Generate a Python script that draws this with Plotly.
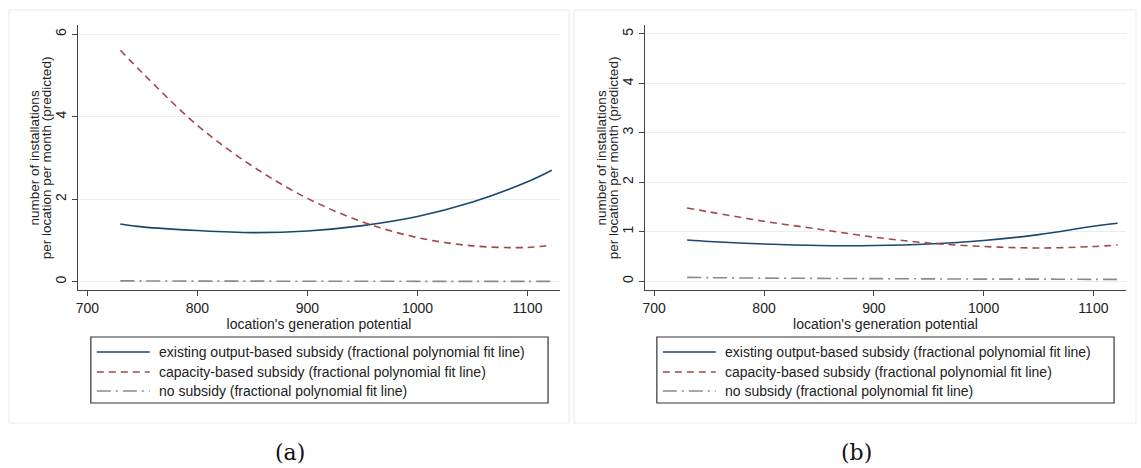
import plotly.graph_objects as go

W, H = 1141, 468

x_vals = [730, 750, 800, 850, 900, 950, 1000, 1050, 1100, 1122]

a_output = [1.40, 1.33, 1.24, 1.19, 1.23, 1.36, 1.58, 1.93, 2.42, 2.70]
a_capacity = [5.61, 5.06, 3.79, 2.80, 2.02, 1.45, 1.07, 0.87, 0.83, 0.89]
a_none = [0.02, 0.02, 0.015, 0.015, 0.012, 0.012, 0.01, 0.01, 0.01, 0.01]

b_output = [0.83, 0.80, 0.75, 0.72, 0.72, 0.75, 0.82, 0.94, 1.11, 1.17]
b_capacity = [1.48, 1.40, 1.21, 1.05, 0.89, 0.77, 0.70, 0.67, 0.70, 0.73]
b_none = [0.075, 0.07, 0.06, 0.055, 0.05, 0.045, 0.04, 0.04, 0.035, 0.035]

x_ticks = [700, 800, 900, 1000, 1100]
a_yticks = [0, 2, 4, 6]
b_yticks = [0, 1, 2, 3, 4, 5]

names = ["existing output-based subsidy (fractional polynomial fit line)",
         "capacity-based subsidy (fractional polynomial fit line)",
         "no subsidy (fractional polynomial fit line)"]
colors = ["#1a476f", "#a4474d", "#8a8a8a"]
dashes = ["solid", "7px,5px", "14px,5px,2px,5px"]

y_title_lines = ["number of installations", "per location per month (predicted)"]
x_title = "location's generation potential"

FONT = "Liberation Sans, Arial, sans-serif"

def px(v):
    return v / W

def py(v):
    return 1 - v / H

fig = go.Figure()

for i, ys in enumerate([a_output, a_capacity, a_none]):
    fig.add_trace(go.Scatter(x=x_vals, y=ys, mode="lines", name=names[i], showlegend=False,
                             line=dict(color=colors[i], width=1.6, dash=dashes[i], shape="spline"),
                             xaxis="x", yaxis="y"))
for i, ys in enumerate([b_output, b_capacity, b_none]):
    fig.add_trace(go.Scatter(x=x_vals, y=ys, mode="lines", name=names[i], showlegend=False,
                             line=dict(color=colors[i], width=1.6, dash=dashes[i], shape="spline"),
                             xaxis="x2", yaxis="y2"))

axis_common = dict(showline=True, linecolor="#444", linewidth=1.2, ticks="outside",
                   ticklen=5, tickcolor="#444", tickfont=dict(family=FONT, size=14, color="#222"),
                   zeroline=False)

fig.update_layout(
    width=W, height=H, margin=dict(l=0, r=0, t=0, b=0),
    paper_bgcolor="white", plot_bgcolor="white",
    font=dict(family=FONT, size=14, color="#222"),
    showlegend=False,
    xaxis=dict(domain=[px(76), px(559)], range=[691.4, 1129.5], tickvals=x_ticks,
               showgrid=False, anchor="y",
               title=dict(text=x_title, standoff=2, font=dict(size=14)), **axis_common),
    yaxis=dict(domain=[py(290), py(25)], range=[-0.2, 6.22], tickvals=a_yticks,
               showgrid=True, gridcolor="#e6eef0", gridwidth=1, tickangle=-90, anchor="x",
               ticklabelstandoff=0, **axis_common),
    xaxis2=dict(domain=[px(644), px(1126)], range=[691.5, 1129.7], tickvals=x_ticks,
                showgrid=False, anchor="y2",
                title=dict(text=x_title, standoff=2, font=dict(size=14)), **axis_common),
    yaxis2=dict(domain=[py(290), py(25)], range=[-0.18, 5.18], tickvals=b_yticks,
                showgrid=True, gridcolor="#e6eef0", gridwidth=1, tickangle=-90, anchor="x2",
                ticklabelstandoff=0, **axis_common),
)

shapes = []
annotations = []
# outer graph-region borders
for (x0, x1) in [(7, 568), (573, 1136)]:
    shapes.append(dict(type="rect", xref="paper", yref="paper",
                       x0=px(x0), x1=px(x1), y0=py(423), y1=py(10),
                       line=dict(color="#e4ecec", width=1), fillcolor="rgba(0,0,0,0)", layer="below"))

# y-axis titles (two tightly spaced lines)
for ax_x in [76, 644]:
    for j, line in enumerate(y_title_lines):
        annotations.append(dict(text=line, x=px(ax_x - 43 + 11.8 * j), y=py(157.5),
                                xref="paper", yref="paper", showarrow=False, textangle=-90,
                                xanchor="center", yanchor="middle",
                                font=dict(family=FONT, size=13.5, color="#222")))

# legend boxes with keys
row_y = [352, 372, 391]
for (x0, x1) in [(89, 547), (656, 1114)]:
    shapes.append(dict(type="rect", xref="paper", yref="paper",
                       x0=px(x0), x1=px(x1), y0=py(403), y1=py(337),
                       line=dict(color="#333", width=1.2), fillcolor="rgba(0,0,0,0)"))
    for i, name in enumerate(names):
        shapes.append(dict(type="line", xref="paper", yref="paper",
                           x0=px(x0 + 6), x1=px(x0 + 59), y0=py(row_y[i]), y1=py(row_y[i]),
                           line=dict(color=colors[i], width=1.5, dash=dashes[i])))
        annotations.append(dict(text=name, x=px(x0 + 66), y=py(row_y[i]), xref="paper", yref="paper",
                                showarrow=False, xanchor="left", yanchor="middle",
                                font=dict(family=FONT, size=14, color="#222")))

for txt, xc in [("(a)", 289), ("(b)", 856)]:
    annotations.append(dict(text=txt, x=px(xc), y=py(452), xref="paper", yref="paper",
                            showarrow=False, xanchor="center", yanchor="middle",
                            font=dict(family="DejaVu Serif, Liberation Serif, serif", size=22, color="#111")))

fig.update_layout(shapes=shapes, annotations=annotations)

fig.write_html("out.html")
